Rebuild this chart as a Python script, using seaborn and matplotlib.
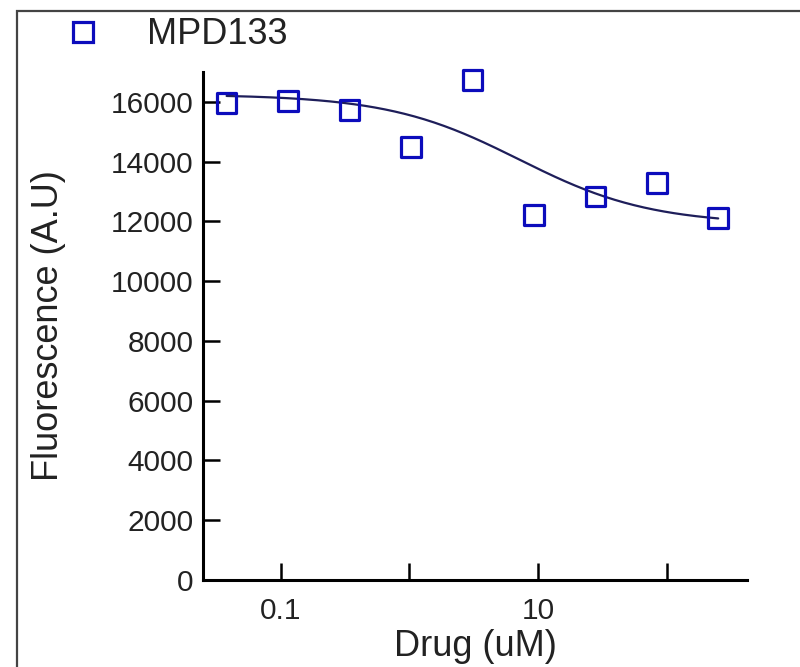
import numpy as np
import pandas as pd
import matplotlib
matplotlib.use('Agg')
import matplotlib.pyplot as plt
from matplotlib.patches import Rectangle
from matplotlib.lines import Line2D
import seaborn as sns

# data
conc = [0.038, 0.114, 0.343, 1.03, 3.09, 9.26, 27.8, 83.3, 250]
fluor = [15970, 16030, 15730, 14500, 16730, 12220, 12830, 13290, 12120]

# dose-response fit parameters (4PL)
fit_top = 16250
fit_bottom = 11900
fit_ec50 = 7.1
fit_hill = 0.85

df = pd.DataFrame({'Drug': conc, 'Fluorescence': fluor})

xs = np.logspace(np.log10(conc[0]), np.log10(conc[-1]), 200)
fit = pd.DataFrame({'Drug': xs,
                    'Fluorescence': fit_bottom + (fit_top - fit_bottom) / (1 + (xs / fit_ec50) ** fit_hill)})

sns.set_style('ticks')
plt.rcParams['font.family'] = ['Liberation Sans', 'DejaVu Sans']

blue = '#0C0CBC'
navy = '#1E1E5A'
txt = '#222222'

fig = plt.figure(figsize=(8, 6.67), dpi=100)
ax = fig.add_axes([0.254, 0.1304, 0.68, 0.7616])

sns.lineplot(data=fit, x='Drug', y='Fluorescence', ax=ax, color=navy, linewidth=1.6)
sns.scatterplot(data=df, x='Drug', y='Fluorescence', ax=ax, marker='s', s=200,
                facecolor='none', edgecolor=blue, linewidth=2.3, zorder=3, clip_on=False)

ax.set_xscale('log')
ax.set_xlim(0.025, 420)
ax.set_ylim(0, 17000)
ax.set_xticks([0.1, 1, 10, 100])
ax.set_xticklabels(['0.1', '', '10', ''])
ax.xaxis.set_minor_locator(matplotlib.ticker.NullLocator())
ax.set_yticks(range(0, 16001, 2000))

for s in ['top', 'right']:
    ax.spines[s].set_visible(False)
for s in ['left', 'bottom']:
    ax.spines[s].set_linewidth(2.2)
    ax.spines[s].set_color('black')

ax.tick_params(axis='both', direction='in', length=12, width=1.8, color='black',
               labelsize=21.5, labelcolor=txt)
ax.tick_params(axis='x', pad=12)
ax.tick_params(axis='y', pad=7)

ax.set_xlabel('Drug (uM)', fontsize=26, color=txt, labelpad=3)
ax.set_ylabel('Fluorescence (A.U)', fontsize=26, color=txt, labelpad=32)

handle = Line2D([], [], marker='s', linestyle='none', markersize=14,
                markerfacecolor='none', markeredgecolor=blue, markeredgewidth=2.3)
fig.legend([handle], ['MPD133'], loc='center left', bbox_to_anchor=(65 / 800, 1 - 35 / 667),
           frameon=False, fontsize=26, handlelength=1.0, handletextpad=1.28,
           borderpad=0, borderaxespad=0, labelcolor=txt)

# outer frame of the original panel
fig.add_artist(Rectangle((17 / 800, -0.2), 1.2, 1.2 - 11 / 667, transform=fig.transFigure,
                         fill=False, edgecolor='#444444', linewidth=1.6))

fig.savefig('out.png', dpi=100)
